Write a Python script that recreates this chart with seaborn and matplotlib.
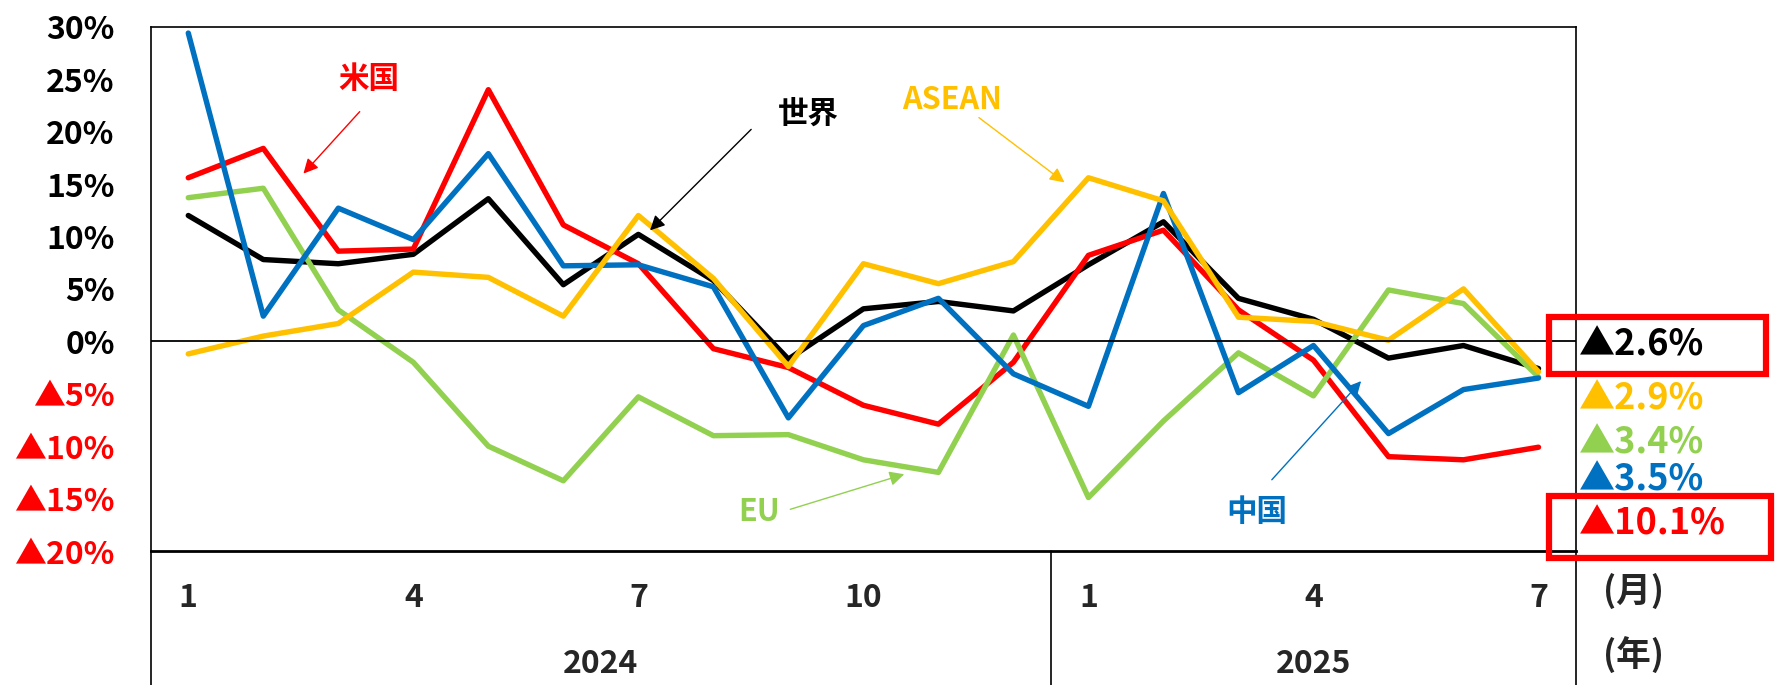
import pandas as pd
import matplotlib.pyplot as plt
import matplotlib.transforms as mtransforms
from matplotlib.patches import Rectangle
import seaborn as sns

# --- data (y/y change, %) ---
month_num = [1, 2, 3, 4, 5, 6, 7, 8, 9, 10, 11, 12, 1, 2, 3, 4, 5, 6, 7]
year_labels = ["2024", "2025"]
shown_months = [0, 3, 6, 9, 12, 15, 18]

world = [12.0, 7.8, 7.4, 8.3, 13.6, 5.4, 10.2, 5.8, -1.7, 3.1, 3.8, 2.9, 7.3, 11.4, 4.1, 2.1, -1.6, -0.4, -2.6]
us = [15.6, 18.4, 8.6, 8.8, 24.0, 11.1, 7.4, -0.7, -2.5, -6.1, -7.9, -2.0, 8.2, 10.6, 3.0, -1.8, -11.0, -11.3, -10.1]
asean = [-1.2, 0.5, 1.7, 6.6, 6.1, 2.4, 12.0, 6.0, -2.4, 7.4, 5.5, 7.6, 15.6, 13.4, 2.3, 1.9, 0.1, 5.0, -2.9]
eu = [13.7, 14.6, 3.0, -2.0, -10.0, -13.3, -5.3, -9.0, -8.9, -11.3, -12.5, 0.6, -14.9, -7.6, -1.1, -5.2, 4.9, 3.6, -3.4]
china = [29.4, 2.4, 12.7, 9.7, 17.9, 7.2, 7.3, 5.2, -7.3, 1.5, 4.1, -3.1, -6.2, 14.1, -4.9, -0.4, -8.8, -4.6, -3.5]

series = {"世界": world, "米国": us, "EU": eu, "中国": china, "ASEAN": asean}
colors = {"世界": "#000000", "米国": "#FF0000", "EU": "#92D050", "中国": "#0070C0", "ASEAN": "#FFC000"}

rows = []
for name, vals in series.items():
    for i, v in enumerate(vals):
        rows.append({"idx": i, "region": name, "value": v})
df = pd.DataFrame(rows)

sns.set_style("white")
plt.rcParams['font.family'] = ['Noto Sans CJK JP', 'DejaVu Sans']
plt.rcParams['font.weight'] = 'bold'

fig = plt.figure(figsize=(17.78, 6.85), dpi=100)
ax = fig.add_axes([0.0848, 0.1956, 0.8016, 0.7653])

sns.lineplot(data=df, x="idx", y="value", hue="region", hue_order=list(series.keys()),
             palette=colors, linewidth=3.9, sort=False, legend=False, ax=ax)

ax.set_xlim(-0.5, len(month_num) - 0.5)
ax.set_ylim(-20, 30)
ax.axhline(0, color="black", lw=1.3)

# y ticks
yt = list(range(-20, 31, 5))
ylab = [f"{v}%" if v >= 0 else f"▲{-v}%" for v in yt]
ax.set_yticks(yt)
ax.set_yticklabels(ylab, fontsize=23, fontweight="bold")
for lab, v in zip(ax.get_yticklabels(), yt):
    lab.set_color("black" if v >= 0 else "#FF0000")
ax.tick_params(axis="y", length=0, pad=26)

# x ticks (months)
ax.set_xticks(shown_months)
ax.set_xticklabels([str(month_num[i]) for i in shown_months], fontsize=23, fontweight="bold")
ax.tick_params(axis="x", length=0, pad=22)
ax.set_xlabel("")
ax.set_ylabel("")

for s in ax.spines.values():
    s.set_color("black")
    s.set_linewidth(1.2)
ax.spines["bottom"].set_linewidth(2.0)

# category separators below the axis
trans = mtransforms.blended_transform_factory(ax.transData, ax.transAxes)
for xs in [-0.5, 11.5, len(month_num) - 0.5]:
    ax.plot([xs, xs], [0, -0.26], color="black", lw=1.2, transform=trans, clip_on=False)
ax.text(5.5, -0.215, year_labels[0], transform=trans, ha="center", va="center",
        fontsize=23, fontweight="bold")
ax.text(15.0, -0.215, year_labels[1], transform=trans, ha="center", va="center",
        fontsize=23, fontweight="bold")
fig.text(1633 / 1778, 1 - 591 / 685, "(月)", ha="center", va="center", fontsize=25, fontweight="bold")
fig.text(1633 / 1778, 1 - 655 / 685, "(年)", ha="center", va="center", fontsize=25, fontweight="bold")

# series labels with arrows
notes = [
    ("米国", (2.41, 25.0), (2.31, 22.1), (1.51, 15.8)),
    ("世界", (8.26, 21.7), (7.53, 20.4), (6.13, 10.4)),
    ("ASEAN", (10.18, 23.0), (10.51, 21.5), (11.71, 15.0)),
    ("EU", (7.61, -16.3), (7.99, -16.1), (9.58, -12.6)),
    ("中国", (14.24, -16.3), (14.42, -13.4), (15.66, -3.6)),
]
for name, tpos, start, end in notes:
    c = colors[name]
    ax.text(tpos[0], tpos[1], name, color=c, ha="center", va="center", fontsize=22, fontweight="bold")
    ax.annotate("", xy=end, xytext=start,
                arrowprops=dict(arrowstyle="-|>", color=c, lw=1.0, mutation_scale=22))

# latest values on the right
latest = [("世界", "▲2.6%", 345), ("ASEAN", "▲2.9%", 399), ("EU", "▲3.4%", 443),
          ("中国", "▲3.5%", 480), ("米国", "▲10.1%", 524)]
for name, txt, ypix in latest:
    fig.text(1579 / 1778, 1 - ypix / 685, txt, color=colors[name], ha="left", va="center",
             fontsize=26, fontweight="bold")
for (x0, y0, x1, y1) in [(1549, 317, 1766, 374), (1549, 496, 1771, 558)]:
    fig.patches.append(Rectangle((x0 / 1778, 1 - y1 / 685), (x1 - x0) / 1778, (y1 - y0) / 685,
                                 transform=fig.transFigure, fill=False, edgecolor="#FF0000", lw=4.5))

fig.savefig("out.png", dpi=100)
